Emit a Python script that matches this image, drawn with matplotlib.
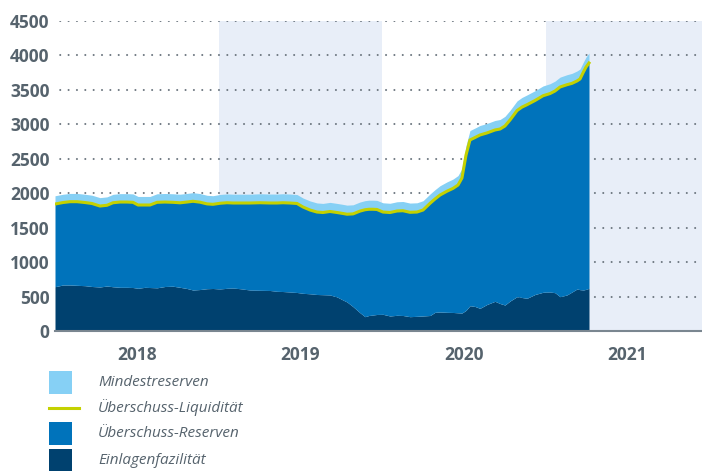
import matplotlib
matplotlib.use("Agg")
import matplotlib.pyplot as plt
from matplotlib.patches import Rectangle
from matplotlib.lines import Line2D
from matplotlib.transforms import blended_transform_factory

plt.rcParams['font.family'] = ['Open Sans', 'DejaVu Sans']

# time axis in fractional years
t = [2018.000, 2018.049, 2018.092, 2018.135, 2018.183, 2018.226, 2018.275, 2018.318,
     2018.355, 2018.398, 2018.440, 2018.477, 2018.508, 2018.550, 2018.581, 2018.624,
     2018.673, 2018.722, 2018.765, 2018.807, 2018.844, 2018.887, 2018.930, 2018.966,
     2019.009, 2019.052, 2019.089, 2019.131, 2019.193, 2019.254, 2019.315, 2019.358,
     2019.394, 2019.437, 2019.480, 2019.517, 2019.560, 2019.602, 2019.639, 2019.682,
     2019.725, 2019.761, 2019.786, 2019.823, 2019.865, 2019.896, 2019.920, 2019.945,
     2019.969, 2020.006, 2020.049, 2020.092, 2020.128, 2020.171, 2020.214, 2020.251,
     2020.294, 2020.324, 2020.355, 2020.398, 2020.434, 2020.465, 2020.489, 2020.514,
     2020.538, 2020.569, 2020.599, 2020.642, 2020.691, 2020.722, 2020.752, 2020.783,
     2020.826, 2020.856, 2020.887, 2020.936, 2020.985, 2021.028, 2021.058, 2021.089,
     2021.131, 2021.162, 2021.193, 2021.211, 2021.232, 2021.248, 2021.266]

# Überschuss-Liquidität (= Einlagenfazilität + Überschuss-Reserven), Mrd EUR
excess_liq = [1843, 1865, 1877, 1877, 1865, 1851, 1814, 1825,
              1862, 1872, 1872, 1868, 1829, 1829, 1829, 1868,
              1872, 1868, 1861, 1872, 1883, 1870, 1845, 1839,
              1854, 1862, 1858, 1858, 1858, 1862, 1858, 1858,
              1862, 1858, 1851, 1800, 1756, 1727, 1720, 1735,
              1720, 1706, 1695, 1700, 1740, 1760, 1767, 1767,
              1764, 1727, 1720, 1742, 1746, 1723, 1727, 1756,
              1854, 1916, 1974, 2030, 2070, 2119, 2221, 2555,
              2773, 2809, 2845, 2875, 2918, 2932, 2976, 3063,
              3200, 3250, 3285, 3346, 3415, 3447, 3484, 3542,
              3575, 3595, 3630, 3658, 3760, 3832, 3890]

# Einlagenfazilität
deposit = [643, 668, 668, 663, 658, 646, 639, 653,
           642, 634, 634, 631, 620, 634, 631, 627,
           646, 650, 634, 617, 595, 602, 614, 617,
           610, 620, 624, 614, 595, 591, 588, 576,
           573, 566, 559, 547, 540, 530, 527, 523,
           494, 450, 421, 353, 266, 208, 225, 232,
           240, 242, 218, 228, 225, 208, 213, 218,
           225, 271, 276, 271, 269, 264, 261, 300,
           367, 356, 329, 385, 431, 399, 377, 435,
           498, 486, 475, 530, 562, 566, 556, 498,
           523, 566, 610, 600, 595, 605, 619]

# Mindestreserven
min_res = [120, 120, 120, 120, 120, 120, 122, 122,
           122, 122, 122, 122, 124, 124, 124, 124,
           124, 124, 125, 125, 125, 125, 125, 125,
           128, 128, 128, 128, 128, 130, 130, 130,
           130, 130, 130, 130, 132, 132, 132, 132,
           132, 132, 132, 132, 132, 132, 132, 132,
           132, 134, 134, 134, 134, 134, 134, 135,
           135, 135, 135, 135, 135, 137, 137, 137,
           137, 137, 138, 138, 138, 138, 140, 140,
           140, 140, 142, 142, 142, 143, 143, 143,
           145, 145, 145, 145, 145, 145, 145]

years = [2018, 2019, 2020, 2021]
yticks = [0, 500, 1000, 1500, 2000, 2500, 3000, 3500, 4000, 4500]

c_min = '#86d0f5'
c_liq = '#c4d100'
c_res = '#0073bb'
c_dep = '#00416f'
c_band = '#e8eef8'
c_text = '#56636d'

W, H = 702, 471
fig = plt.figure(figsize=(W / 100, H / 100), dpi=100)
ax = fig.add_axes([55 / W, 1 - 331 / H, (W - 55) / W, 310 / H])

x_end = 2018 + (W - 55) / 163.5
ax.set_xlim(2018, x_end)
ax.set_ylim(0, 4500)

for y0 in (2019, 2021):
    ax.axvspan(y0, y0 + 1, color=c_band, lw=0, zorder=0)

# dotted grid: round-capped zero-length dashes give dots
for yv in yticks[1:]:
    ax.axhline(yv, color='#6d7780', lw=1.5, ls=(1.5, (0.01, 4.0)),
               dash_capstyle='round', zorder=1)

top = [a + b for a, b in zip(excess_liq, min_res)]
ax.fill_between(t, 0, deposit, color=c_dep, lw=0, zorder=2)
ax.fill_between(t, deposit, excess_liq, color=c_res, lw=0, zorder=2)
ax.fill_between(t, excess_liq, top, color=c_min, lw=0, zorder=2)
ax.plot(t, excess_liq, color=c_liq, lw=2.2, zorder=3)

for s in ('top', 'right', 'left'):
    ax.spines[s].set_visible(False)
ax.spines['bottom'].set_color('#7a8690')
ax.spines['bottom'].set_linewidth(1.5)
ax.spines['bottom'].set_zorder(4)

ax.set_yticks(yticks)
ax.set_yticklabels([str(v) for v in yticks])
ax.tick_params(axis='y', length=0, pad=4, labelsize=12.5, labelcolor=c_text)
for lab in ax.get_yticklabels():
    lab.set_fontweight('bold')
ax.set_xticks([])

trans = blended_transform_factory(ax.transData, ax.transAxes)
for yr in years:
    ax.text(yr + 0.5, -24.5 / 310, str(yr), transform=trans, ha='center',
            va='center', fontsize=12.5, fontweight='bold', color=c_text)

# legend, drawn in figure pixels
def fx(px):
    return px / W

def fy(py):
    return 1 - py / H

legend_items = [('Mindestreserven', 'patch', c_min, 371, 394),
                ('Überschuss-Liquidität', 'line', c_liq, 408, 408),
                ('Überschuss-Reserven', 'patch', c_res, 422, 445),
                ('Einlagenfazilität', 'patch', c_dep, 449, 471)]
for label, kind, col, y_a, y_b in legend_items:
    if kind == 'patch':
        fig.add_artist(Rectangle((fx(49), fy(y_b)), fx(72) - fx(49), fy(y_a) - fy(y_b),
                                 transform=fig.transFigure, color=col, lw=0))
    else:
        fig.add_artist(Line2D([fx(49), fx(79)], [fy(y_a), fy(y_a)],
                              transform=fig.transFigure, color=col, lw=2.2))
    fig.text(fx(98), fy((y_a + y_b) / 2), label, ha='left', va='center',
             fontsize=11, style='italic', color=c_text)

fig.savefig('out.png', dpi=100)
